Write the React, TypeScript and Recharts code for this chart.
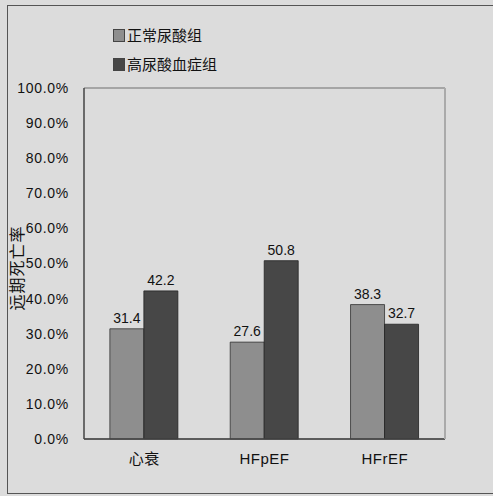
import React from 'react';
import { BarChart, Bar, XAxis, YAxis, CartesianGrid, LabelList } from 'recharts';

const categories = ['心衰', 'HFpEF', 'HFrEF'];
const normalUric = [31.4, 27.6, 38.3];
const highUric = [42.2, 50.8, 32.7];
const yTicks = [0, 10, 20, 30, 40, 50, 60, 70, 80, 90, 100];
const seriesNames = ['正常尿酸组', '高尿酸血症组'];

const data = categories.map((name, i) => ({ name, normal: normalUric[i], high: highUric[i] }));

const FONT = '"Liberation Sans", Arial, "Noto Sans CJK SC", sans-serif';
const LIGHT = '#8e8e8e';
const DARK = '#474747';

const YLabel = () => {
  const cy = 268;
  return (
    <text x={17} y={cy} transform={`rotate(-90, 17, ${cy})`} textAnchor="middle" dominantBaseline="central"
      fontSize={16} letterSpacing={1} fill="#111" fontFamily={FONT}>
      远期死亡率
    </text>
  );
};

const App: React.FC = () => {
  return (
    <div style={{ position: 'absolute', left: 0, top: 0, width: 493, height: 496, background: '#dcdcdc', fontFamily: FONT }}>
      <div style={{ position: 'absolute', left: 7, top: 5, width: 486, height: 489, borderLeft: '1.5px solid #555', borderTop: '1.5px solid #555', borderBottom: '1.5px solid #555', boxSizing: 'border-box' }} />
      <div style={{ position: 'absolute', left: 113, top: 21, fontSize: 15, color: '#111', lineHeight: '29px' }}>
        {seriesNames.map((n, i) => (
          <div key={n} style={{ display: 'flex', alignItems: 'center' }}>
            <span style={{ display: 'inline-block', width: 10, height: 11, background: i === 0 ? LIGHT : DARK, border: '1px solid #444', marginRight: 2 }} />
            <span>{n}</span>
          </div>
        ))}
      </div>
      <div style={{ position: 'absolute', left: 0, top: 0 }}>
        <BarChart width={493} height={496} data={data} margin={{ top: 88, right: 47, bottom: 0, left: 0 }}
          barCategoryGap="21.5%" barGap={0}>
          <CartesianGrid vertical={false} stroke="#6e6e6e" strokeWidth={1.2} />
          <XAxis dataKey="name" height={57} tickLine={false} axisLine={{ stroke: '#444', strokeWidth: 1.5 }}
            tick={{ fontSize: 15, fill: '#111', fontFamily: FONT, letterSpacing: 0.5 }} tickMargin={8} />
          <YAxis yAxisId="left" width={84} domain={[0, 100]} ticks={yTicks} interval={0}
            tickFormatter={(v: number) => `${v.toFixed(1)}%`} tickLine={false}
            axisLine={{ stroke: '#444', strokeWidth: 1.5 }} tickMargin={9}
            tick={{ fontSize: 14, fill: '#111', fontFamily: FONT, letterSpacing: 0.7 }}
            label={<YLabel />} />
          <YAxis yAxisId="right" orientation="right" width={1} domain={[0, 100]} tick={false} tickLine={false}
            axisLine={{ stroke: '#aaaaaa', strokeWidth: 2 }} />
          <Bar yAxisId="left" dataKey="normal" fill={LIGHT} stroke="#333" strokeWidth={0.8} isAnimationActive={false}>
            <LabelList dataKey="normal" position="top" offset={6} fill="#111" fontSize={14} fontFamily={FONT} />
          </Bar>
          <Bar yAxisId="left" dataKey="high" fill={DARK} stroke="#222" strokeWidth={0.8} isAnimationActive={false}>
            <LabelList dataKey="high" position="top" offset={6} fill="#111" fontSize={14} fontFamily={FONT} />
          </Bar>
        </BarChart>
      </div>
    </div>
  );
};

export default App;
